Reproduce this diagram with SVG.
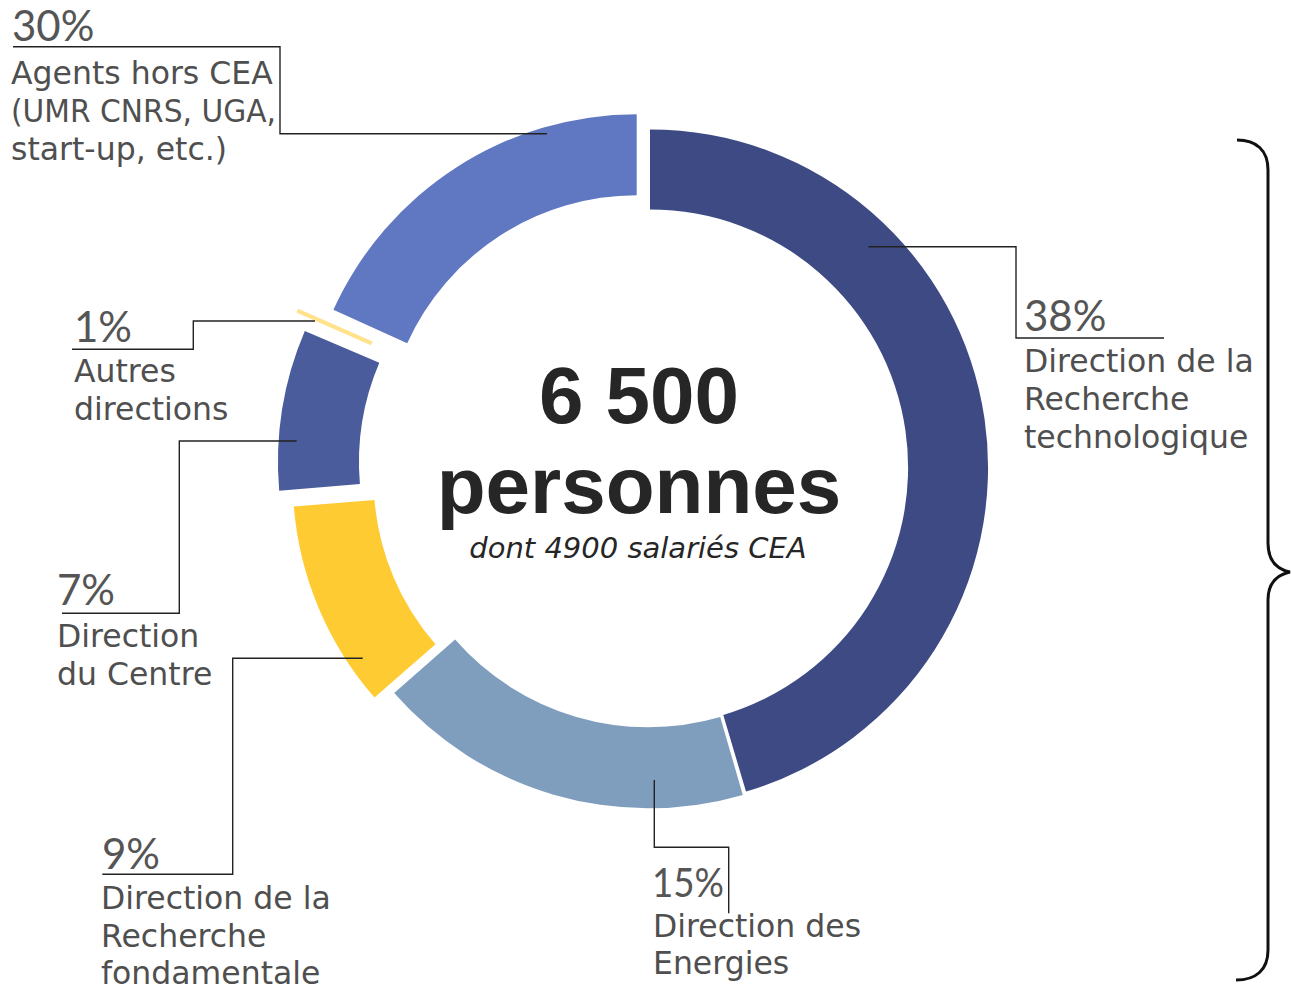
<svg xmlns="http://www.w3.org/2000/svg" width="1291" height="989" viewBox="0 0 1291 989">
<style>
.pct{font-family:Lato,"Liberation Sans",sans-serif;font-weight:400;font-size:42px;fill:#555}
.lbl{font-family:"DejaVu Sans","Liberation Sans",sans-serif;font-size:31.5px;fill:#4f4f4f}
.big{font-family:"Liberation Sans",Arial,sans-serif;font-weight:bold;font-size:80px;fill:#262626;text-anchor:middle}
.sub{font-family:"DejaVu Sans","Liberation Sans",sans-serif;font-style:italic;font-size:29px;fill:#262626;text-anchor:middle}
.lead{fill:none;stroke:#222;stroke-width:1.4}
</style>
<rect width="1291" height="989" fill="#fff"/>
<g id="seg-drt">
<path d="M650,129.5 A338,338 0 0 1 746,791.6 L723.3,714.9 A258,258 0 0 0 650,209.5 Z" fill="#3d4a84"/>
</g>
<g id="seg-energies">
<path d="M742.8,794.9 A338,338 0 0 1 394.2,692.9 L455.1,639.6 A257,257 0 0 0 720.2,717.1 Z" fill="#7f9dbd"/>
</g>
<g id="seg-drf">
<path d="M374.5,697.6 A332,332 0 0 1 293.8,506.5 L374.5,499.9 A251,251 0 0 0 435.5,644.3 Z" fill="#ffcb32"/>
</g>
<g id="seg-centre">
<path d="M279.2,490.8 A334.5,334.5 0 0 1 304.8,331 L379.3,362.7 A253.5,253.5 0 0 0 359.9,483.9 Z" fill="#4a5c9b"/>
</g>
<g id="seg-autres">
<line x1="297.3" y1="310.7" x2="371.7" y2="343.3" stroke="#ffe28a" stroke-width="4"/>
</g>
<g id="seg-agents">
<path d="M333.4,309.8 A333,333 0 0 1 636.7,114.3 L636.7,195.3 A252,252 0 0 0 407.2,343.2 Z" fill="#6078c1"/>
</g>
<g id="center-text">
<text class="big" x="639" y="423">6 500</text>
<text class="big" x="639" y="513">personnes</text>
<text class="sub" x="638" y="558">dont 4900 salariés CEA</text>
</g>
<g id="connectors">
<polyline class="lead" points="13,46.7 280,46.7 280,133.7 547,133.7"/>
<polyline class="lead" points="868.3,246.7 1016,246.7 1016,338 1164,338"/>
<polyline class="lead" points="654.3,780 654.3,847.3 728.7,847.3 728.7,913.3"/>
<polyline class="lead" points="362.7,658.3 232.7,658.3 232.7,874.3 102.3,874.3"/>
<polyline class="lead" points="296.7,441 179.3,441 179.3,613.3 62,613.3"/>
<polyline class="lead" points="315,321 193.3,321 193.3,349.3 72,349.3"/>
</g>
<g id="label-agents">
<text class="pct" x="12" y="41">30%</text>
<text class="lbl" x="11" y="84">Agents hors CEA</text>
<text class="lbl" x="11" y="122" textLength="265" lengthAdjust="spacingAndGlyphs">(UMR CNRS, UGA,</text>
<text class="lbl" x="11" y="160">start-up, etc.)</text>
</g>
<g id="label-drt">
<text class="pct" x="1024" y="331">38%</text>
<text class="lbl" x="1024" y="372">Direction de la</text>
<text class="lbl" x="1024" y="410">Recherche</text>
<text class="lbl" x="1024" y="448">technologique</text>
</g>
<g id="label-autres">
<text class="pct" x="74" y="342">1%</text>
<text class="lbl" x="74" y="382">Autres</text>
<text class="lbl" x="74" y="420">directions</text>
</g>
<g id="label-centre">
<text class="pct" x="57" y="605">7%</text>
<text class="lbl" x="57" y="647">Direction</text>
<text class="lbl" x="57" y="685">du Centre</text>
</g>
<g id="label-drf">
<text class="pct" x="102" y="869">9%</text>
<text class="lbl" x="101" y="909">Direction de la</text>
<text class="lbl" x="101" y="947">Recherche</text>
<text class="lbl" x="101" y="984">fondamentale</text>
</g>
<g id="label-energies">
<text class="pct" x="652" y="897" style="font-size:40px" textLength="72" lengthAdjust="spacingAndGlyphs">15%</text>
<text class="lbl" x="653" y="937">Direction des</text>
<text class="lbl" x="653" y="974">Energies</text>
</g>
<g id="brace">
<path d="M1237,140 C1256,140 1268,150 1268,170 L1268,543 C1268,560 1276,569 1290,572 C1276,575 1268,584 1268,600 L1268,950 C1268,970 1256,980 1236,980" fill="none" stroke="#111" stroke-width="3"/>
</g>
</svg>
